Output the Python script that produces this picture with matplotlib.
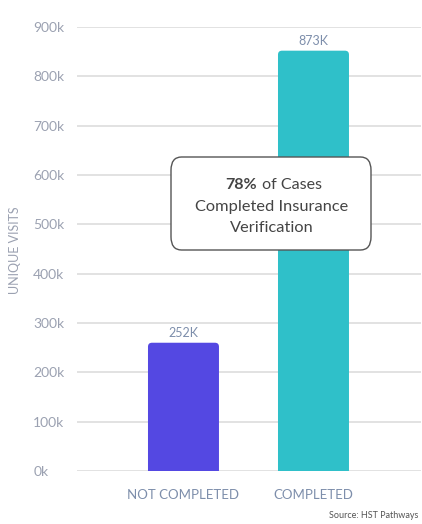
import matplotlib.pyplot as plt
from matplotlib.patches import FancyBboxPatch

# data (bar heights in thousands)
categories = ['NOT COMPLETED', 'COMPLETED']
visits = [260, 852]
value_labels = ['252K', '873K']
bar_colors = ['#5448e2', '#2fc0c9']
yticks = [0, 100, 200, 300, 400, 500, 600, 700, 800, 900]
ytick_labels = ['%dk' % t for t in yticks]

plt.rcParams['font.family'] = ['Lato', 'DejaVu Sans']

fig = plt.figure(figsize=(4.22, 5.24), dpi=100)
W, H = 422, 524
# axes from x=77..421 px, y=27..471 px
ax = fig.add_axes([77 / W, 1 - 471 / H, 344 / W, 444 / H])

x = list(range(len(categories)))
width = 0.546
ax.set_xlim(-0.819, 1.827)
ax.set_ylim(0, 900)

# bars with small rounded corners
px_x = 130.0          # px per x unit
px_y = 444.0 / 900    # px per y unit
r = 4 / px_x
for xi, v, c, lab in zip(x, visits, bar_colors, value_labels):
    p = FancyBboxPatch((xi - width / 2, -20), width, v + 20,
                       boxstyle='round,pad=0,rounding_size=%f' % r,
                       mutation_aspect=px_x / px_y,
                       facecolor=c, edgecolor='none', zorder=3)
    ax.add_patch(p)
    ax.text(xi, v + 8, lab, ha='center', va='bottom',
            fontsize=9, color='#7d8eab', zorder=4)

ax.set_yticks(yticks)
ax.set_yticklabels(ytick_labels, ha='left')
ax.set_xticks(x)
ax.set_xticklabels(categories)
ax.tick_params(axis='y', length=0, pad=31.5, labelsize=10, labelcolor='#9ba1b1')
ax.tick_params(axis='x', length=0, pad=13, labelsize=9.5, labelcolor='#7d8eab')
ax.grid(axis='y', color='#dddddd', linewidth=1.2, zorder=0)
ax.set_axisbelow(True)
for s in ax.spines.values():
    s.set_visible(False)

fig.text(15 / W, 1 - 250 / H, 'UNIQUE VISITS', rotation=90, ha='center',
         va='center', fontsize=9, color='#9ba1b1')

# callout box
box = FancyBboxPatch((171 / W, 1 - 250 / H), 200 / W, 93 / H,
                     boxstyle='round,pad=0,rounding_size=0.025',
                     transform=fig.transFigure, facecolor='white',
                     edgecolor='#555555', linewidth=1.0, zorder=5)
fig.patches.append(box)
fig.text(257 / W, 1 - 185 / H, '78%', ha='right', fontweight='bold',
         va='center', fontsize=11.5, color='#444444', zorder=6)
fig.text(258 / W, 1 - 185 / H, ' of Cases', ha='left',
         va='center', fontsize=11.5, color='#444444', zorder=6)
fig.text(272 / W, 1 - 207 / H, 'Completed Insurance', ha='center',
         va='center', fontsize=11.8, color='#444444', zorder=6)
fig.text(272 / W, 1 - 228 / H, 'Verification', ha='center',
         va='center', fontsize=11.8, color='#444444', zorder=6)

fig.text(418 / W, 1 - 516 / H, 'Source: HST Pathways', ha='right',
         va='center', fontsize=6.5, color='#555555')

plt.savefig('out.png', dpi=100)
